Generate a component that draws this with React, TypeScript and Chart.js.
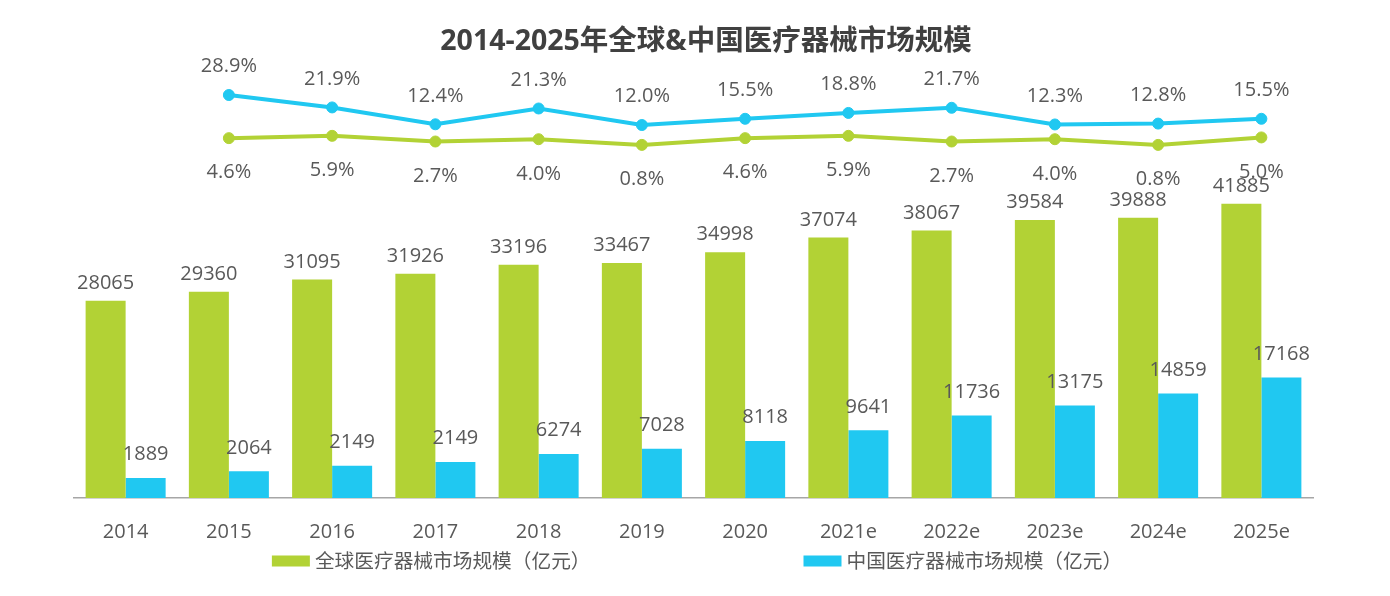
import React, { useEffect, useRef } from 'react';
import { Chart, registerables } from 'chart.js';

Chart.register(...registerables);

const categories = ['2014', '2015', '2016', '2017', '2018', '2019', '2020', '2021e', '2022e', '2023e', '2024e', '2025e'];
const globalMarket = [28065, 29360, 31095, 31926, 33196, 33467, 34998, 37074, 38067, 39584, 39888, 41885];
// bar heights as drawn in the reference
const chinaMarket = [2850, 3790, 4600, 5130, 6274, 7028, 8118, 9641, 11736, 13175, 14859, 17168];
// value labels as printed in the reference
const chinaMarketLabels = ['1889', '2064', '2149', '2149', '6274', '7028', '8118', '9641', '11736', '13175', '14859', '17168'];
const chinaGrowth = [null, 28.9, 21.9, 12.4, 21.3, 12.0, 15.5, 18.8, 21.7, 12.3, 12.8, 15.5];
const globalGrowth = [null, 4.6, 5.9, 2.7, 4.0, 0.8, 4.6, 5.9, 2.7, 4.0, 0.8, 5.0];

const TITLE = '2014-2025年全球&中国医疗器械市场规模';
const LEGEND_GLOBAL = '全球医疗器械市场规模（亿元）';
const LEGEND_CHINA = '中国医疗器械市场规模（亿元）';

const GREEN = '#B2D235';
const BLUE = '#20C8F1';
const TEXT = '#595959';
const TITLE_COLOR = '#404040';
const FONT = "'Open Sans', 'Noto Sans CJK SC', sans-serif";

const valueLabelPlugin = {
  id: 'valueLabels',
  afterDatasetsDraw(chart: any) {
    const ctx = chart.ctx;
    ctx.save();
    ctx.font = `20px ${FONT}`;
    ctx.fillStyle = TEXT;
    ctx.textAlign = 'center';
    ctx.textBaseline = 'alphabetic';
    chart.data.datasets.forEach((ds: any, di: number) => {
      const meta = chart.getDatasetMeta(di);
      meta.data.forEach((el: any, i: number) => {
        const v = ds.data[i];
        if (v == null) return;
        const text = ds.labelTexts ? ds.labelTexts[i] : String(v);
        ctx.fillText(text, el.x, el.y + ds.labelDy);
      });
    });
    ctx.restore();
  },
};

const titlePlugin = {
  id: 'customTitle',
  afterDraw(chart: any) {
    const ctx = chart.ctx;
    ctx.save();
    ctx.font = `bold 28.5px ${FONT}`;
    ctx.fillStyle = TITLE_COLOR;
    ctx.textAlign = 'center';
    ctx.textBaseline = 'middle';
    ctx.fillText(TITLE, 706, 42);
    ctx.restore();
  },
};

const legendPlugin = {
  id: 'customLegend',
  afterDraw(chart: any) {
    const ctx = chart.ctx;
    ctx.save();
    ctx.font = `19.7px ${FONT}`;
    const items = [
      { text: LEGEND_GLOBAL, color: GREEN },
      { text: LEGEND_CHINA, color: BLUE },
    ];
    const boxW = 38;
    const boxH = 11;
    const gapBox = 5;
    const gapItems = 213;
    const widths = items.map((it) => boxW + gapBox + ctx.measureText(it.text).width);
    const total = widths[0] + gapItems + widths[1];
    let x = 697 - total / 2;
    const cy = 561;
    items.forEach((it, i) => {
      ctx.fillStyle = it.color;
      ctx.fillRect(x, cy - boxH / 2, boxW, boxH);
      ctx.fillStyle = TEXT;
      ctx.textAlign = 'left';
      ctx.textBaseline = 'middle';
      ctx.fillText(it.text, x + boxW + gapBox, cy + 1);
      x += widths[i] + gapItems;
    });
    ctx.restore();
  },
};

export default function App() {
  const canvasRef = useRef<HTMLCanvasElement | null>(null);

  useEffect(() => {
    if (!canvasRef.current) return;
    const chart = new Chart(canvasRef.current, {
      type: 'bar',
      data: {
        labels: categories,
        datasets: [
          {
            type: 'line',
            label: '中国增长率',
            data: chinaGrowth,
            yAxisID: 'y1',
            borderColor: BLUE,
            backgroundColor: BLUE,
            borderWidth: 4,
            pointRadius: 5.5,
            pointBorderWidth: 1,
            pointBackgroundColor: BLUE,
            pointBorderColor: BLUE,
            tension: 0,
            order: 0,
            labelTexts: chinaGrowth.map((v) => (v == null ? '' : v.toFixed(1) + '%')),
            labelDy: -22.7,
          } as any,
          {
            type: 'line',
            label: '全球增长率',
            data: globalGrowth,
            yAxisID: 'y1',
            borderColor: GREEN,
            backgroundColor: GREEN,
            borderWidth: 4,
            pointRadius: 5.5,
            pointBorderWidth: 1,
            pointBackgroundColor: GREEN,
            pointBorderColor: GREEN,
            tension: 0,
            order: 0,
            labelTexts: globalGrowth.map((v) => (v == null ? '' : v.toFixed(1) + '%')),
            labelDy: 40.3,
          } as any,
          {
            type: 'bar',
            label: LEGEND_GLOBAL,
            data: globalMarket,
            yAxisID: 'y',
            backgroundColor: GREEN,
            categoryPercentage: 0.775,
            barPercentage: 1,
            order: 1,
            labelDy: -12,
          } as any,
          {
            type: 'bar',
            label: LEGEND_CHINA,
            data: chinaMarket,
            yAxisID: 'y',
            backgroundColor: BLUE,
            categoryPercentage: 0.775,
            barPercentage: 1,
            order: 1,
            labelTexts: chinaMarketLabels,
            labelDy: -17.5,
          } as any,
        ],
      },
      options: {
        responsive: true,
        maintainAspectRatio: false,
        animation: false,
        events: [],
        layout: { padding: { left: 74, right: 77, top: 80, bottom: 30 } },
        plugins: {
          legend: { display: false },
          title: { display: false },
          tooltip: { enabled: false },
        },
        scales: {
          x: {
            grid: { display: false, drawTicks: false },
            border: { display: true, color: '#a6a6a6', width: 1.5 },
            ticks: {
              color: TEXT,
              padding: 22,
              font: { family: FONT, size: 20 },
              maxRotation: 0,
              autoSkip: false,
            },
          },
          y: {
            display: false,
            min: 0,
            max: 59500,
            grid: { display: false },
          },
          y1: {
            display: false,
            min: -198.1,
            max: 37.35,
            grid: { display: false },
          },
        },
      },
      plugins: [valueLabelPlugin, titlePlugin, legendPlugin],
    });
    return () => chart.destroy();
  }, []);

  return (
    <div style={{ position: 'fixed', left: 0, top: 0, width: 1390, height: 596, background: '#ffffff' }}>
      <canvas ref={canvasRef} style={{ display: 'block' }} />
    </div>
  );
}
